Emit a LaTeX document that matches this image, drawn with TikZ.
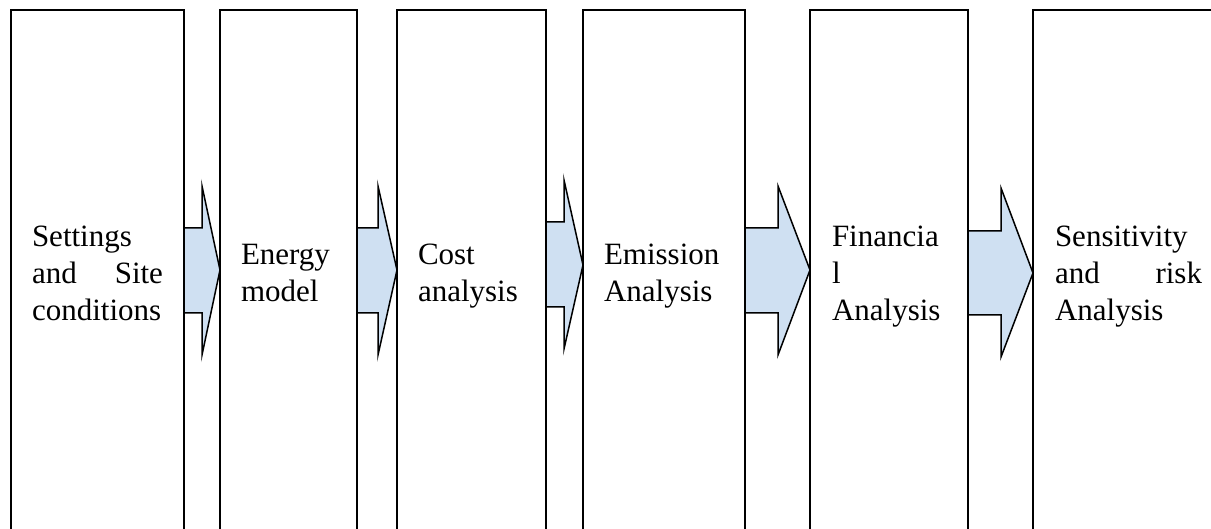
\documentclass[tikz,border=0pt]{standalone}
\usepackage{fontspec}
\setmainfont{Liberation Serif}
\usetikzlibrary{calc}
\definecolor{arrowfill}{RGB}{207,224,242}
\tikzset{
  stagebox/.style={draw=black, line width=1.5pt, rectangle, anchor=north west, inner sep=0pt, outer sep=0pt, minimum height=560pt},
  stagetext/.style={anchor=base west, inner sep=0pt, outer sep=0pt, align=left, font=\fontsize{31}{37}\selectfont},
  flowarrow/.style={draw=black, fill=arrowfill, line width=1.5pt, line join=miter}
}
\begin{document}
\begin{tikzpicture}[x=1pt,y=-1pt]
\clip (0,0) rectangle (1211,529);
% boxes
\node[stagebox, minimum width=173pt] (b1) at (11,10) {};
\node[stagebox, minimum width=137pt] (b2) at (220,10) {};
\node[stagebox, minimum width=149pt] (b3) at (397,10) {};
\node[stagebox, minimum width=162pt] (b4) at (583,10) {};
\node[stagebox, minimum width=158pt] (b5) at (810,10) {};
\node[stagebox, minimum width=200pt] (b6) at (1033,10) {};
% texts
\node[stagetext, text width=131pt] (t1) at (32,247) {Settings\\and\hfill Site\\conditions};
\node[stagetext, text width=110pt] (t2) at (241,265) {Energy\\model};
\node[stagetext, text width=110pt] (t3) at (418,265) {Cost\\analysis};
\node[stagetext, text width=125pt] (t4) at (604,265) {Emission\\Analysis};
\node[stagetext, text width=120pt] (t5) at (832,247) {Financia\\l\\Analysis};
\node[stagetext, text width=147pt] (t6) at (1055,247) {Sensitivity\\and\hfill risk\\Analysis};
% arrows
\draw[flowarrow] (b1.east |- 0,228) -- (202,228) -- (202,186) -- (b2.west |- 0,270)
  -- (202,355) -- (202,313) -- (b1.east |- 0,313) -- cycle;
\draw[flowarrow] (b2.east |- 0,228) -- (378,228) -- (378,186) -- (b3.west |- 0,270)
  -- (378,355) -- (378,313) -- (b2.east |- 0,313) -- cycle;
\draw[flowarrow] (b3.east |- 0,222) -- (564,222) -- (564,180) -- (b4.west |- 0,265)
  -- (564,349) -- (564,307) -- (b3.east |- 0,307) -- cycle;
\draw[flowarrow] (b4.east |- 0,228) -- (778,228) -- (778,186) -- (b5.west |- 0,270)
  -- (778,355) -- (778,313) -- (b4.east |- 0,313) -- cycle;
\draw[flowarrow] (b5.east |- 0,231) -- (1001,231) -- (1001,188) -- (b6.west |- 0,273)
  -- (1001,357) -- (1001,315) -- (b5.east |- 0,315) -- cycle;
\end{tikzpicture}
\end{document}
